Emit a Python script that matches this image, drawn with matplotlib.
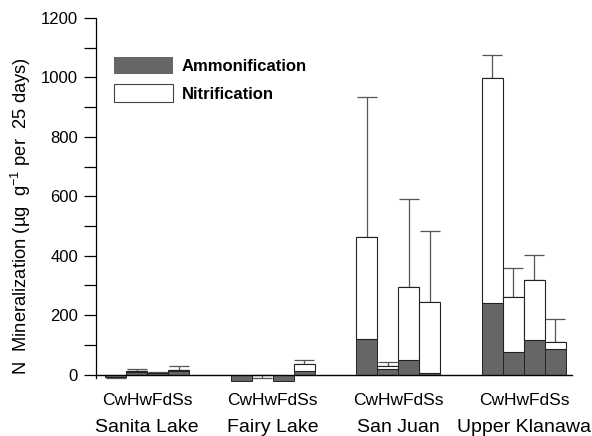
#!/usr/bin/env python3
"""N mineralization (ammonification + nitrification) by site and tree species."""
import numpy as np
import matplotlib

matplotlib.use("Agg")
import matplotlib.pyplot as plt
from matplotlib.patches import Patch
from matplotlib.transforms import blended_transform_factory

plt.rcParams["font.family"] = ["Liberation Sans", "DejaVu Sans"]
plt.rcParams["mathtext.fontset"] = "custom"
plt.rcParams["mathtext.rm"] = "Liberation Sans"
plt.rcParams["mathtext.default"] = "regular"

SITES = ["Sanita Lake", "Fairy Lake", "San Juan", "Upper Klanawa"]
SPECIES = ["Cw", "Hw", "Fd", "Ss"]
# values in ug g-1 per 25 days, one row per site, one column per species
AMMONIFICATION = [
    [-8, 7, 4, 13],
    [-21, -3, -21, 13],
    [120, 18, 48, 5],
    [242, 76, 118, 87],
]
NITRIFICATION = [
    [0, 4, 2, 2],
    [0, 0, 0, 21],
    [343, 10, 247, 239],
    [755, 185, 200, 23],
]
ERRORS = [
    [5, 7, 3, 14],
    [0, 8, 0, 15],
    [471, 13, 295, 239],
    [78, 96, 84, 77],
]

AMM_COLOR = "#666666"
EDGE = "#222222"
GROUP_STEP = 6      # bar widths between the starts of two site groups


def main(out_path="out.png"):
    amm = np.array(AMMONIFICATION, dtype=float)
    nit = np.array(NITRIFICATION, dtype=float)
    err = np.array(ERRORS, dtype=float)
    n_sites, n_sp = amm.shape
    x = (np.arange(n_sites)[:, None] * GROUP_STEP
         + np.arange(n_sp)[None, :] + 0.5)

    fig = plt.figure(figsize=(5.92, 4.36), dpi=100)
    ax = fig.add_axes([96 / 592, 54 / 436, 476 / 592, 364 / 436])

    xf, af, nf, ef = x.ravel(), amm.ravel(), nit.ravel(), err.ravel()
    ax.bar(xf, af, width=1.0, color=AMM_COLOR, edgecolor=EDGE, lw=0.7,
           zorder=2)
    base = np.maximum(af, 0)
    m = nf > 0
    ax.bar(xf[m], nf[m], width=1.0, bottom=base[m], color="white",
           edgecolor=EDGE, lw=0.8, zorder=2)

    # error bars go away from the zero line
    total = np.where(af < 0, af, af + nf)
    m = ef > 0
    lower = np.where(total < 0, ef, 0)
    upper = np.where(total < 0, 0, ef)
    ax.errorbar(xf[m], total[m], yerr=[lower[m], upper[m]], fmt="none",
                ecolor="#555555", elinewidth=0.9, capsize=7, capthick=0.9,
                zorder=1)

    ax.set_xlim(-0.45, 22.3)
    ax.set_ylim(-25, 1200)
    ax.set_yticks(np.arange(0, 1201, 200))
    ax.set_yticks(np.arange(100, 1200, 200), minor=True)
    ax.tick_params(axis="y", which="both", direction="out", length=9,
                   width=0.9, labelsize=12, pad=4)
    ax.set_xticks([])
    for side in ("top", "right"):
        ax.spines[side].set_visible(False)
    ax.spines["left"].set_bounds(-12, 1200)
    ax.spines["left"].set_linewidth(0.9)
    ax.spines["bottom"].set_position(("data", 0))
    ax.spines["bottom"].set_linewidth(1.0)

    trans = blended_transform_factory(ax.transData, fig.transFigure)
    for g, site in enumerate(SITES):
        cx = g * GROUP_STEP + n_sp / 2
        ax.text(cx, 0.070, "".join(SPECIES), transform=trans, fontsize=12.5,
                ha="center", va="baseline")
        ax.text(cx, 0.010, site, transform=trans, fontsize=14,
                ha="center", va="baseline")

    fig.text(21 / 592, 0.505, "N  Mineralization (µg  g$^{-1}$ per  25 days)",
             rotation=90, ha="center", va="center", fontsize=13.2)

    handles = [Patch(facecolor=AMM_COLOR, edgecolor="none"),
               Patch(facecolor="white", edgecolor="#444444", lw=0.8)]
    ax.legend(handles, ["Ammonification", "Nitrification"],
              loc="upper left", bbox_to_anchor=(114 / 592, 1 - 57 / 436),
              bbox_transform=fig.transFigure, frameon=False, borderpad=0,
              borderaxespad=0, handlelength=3.53, handleheight=1.2,
              handletextpad=0.55, labelspacing=0.62,
              prop={"size": 12, "weight": "bold"})

    fig.savefig(out_path, dpi=100)


if __name__ == "__main__":
    main()
